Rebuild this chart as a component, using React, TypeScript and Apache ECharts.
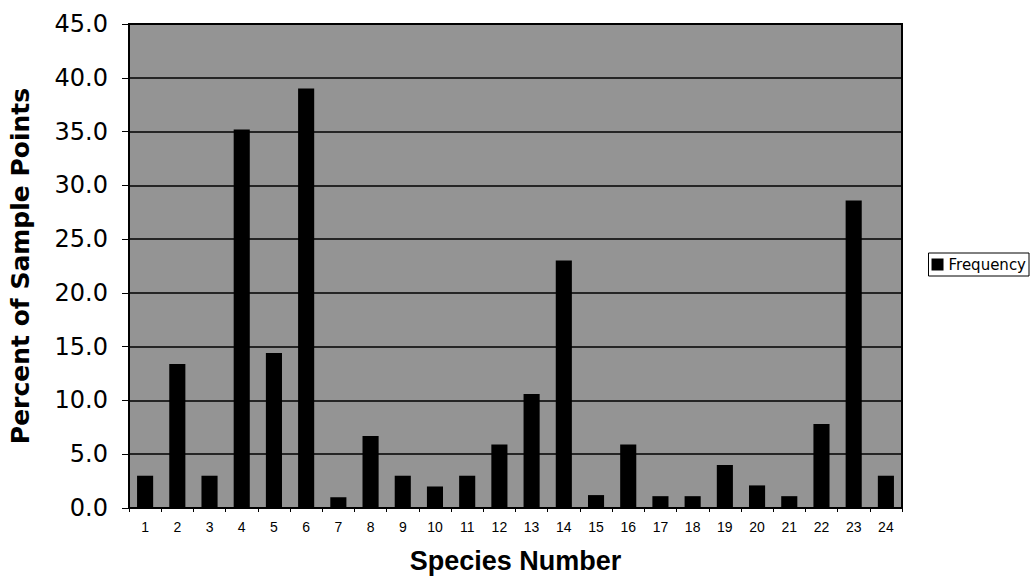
import React, { useEffect, useRef } from "react";
import * as echarts from "echarts";

const categories = ["1","2","3","4","5","6","7","8","9","10","11","12","13","14","15","16","17","18","19","20","21","22","23","24"];
const frequency = [3.0, 13.4, 3.0, 35.2, 14.4, 39.0, 1.0, 6.7, 3.0, 2.0, 3.0, 5.9, 10.6, 23.0, 1.2, 5.9, 1.1, 1.1, 4.0, 2.1, 1.1, 7.8, 28.6, 3.0];
const yMin = 0;
const yMax = 45;
const yStep = 5;

export default function App() {
  const ref = useRef<HTMLDivElement>(null);
  useEffect(() => {
    if (!ref.current) return;
    const chart = echarts.init(ref.current, null, { renderer: "svg" });
    chart.setOption({
      animation: false,
      backgroundColor: "#ffffff",
      textStyle: { fontFamily: "Liberation Sans, Arial, sans-serif", color: "#000" },
      grid: {
        left: 129,
        right: 129,
        top: 24,
        bottom: 69,
        containLabel: false,
        outerBoundsMode: "none",
        show: true,
        backgroundColor: "#949494",
        borderColor: "#000",
        borderWidth: 2,
      },
      legend: {
        right: 2,
        top: 253,
        orient: "vertical",
        data: ["Frequency"],
        itemWidth: 12,
        itemHeight: 12,
        borderColor: "#000",
        borderWidth: 1,
        padding: [4, 3, 4, 3],
        textStyle: { fontSize: 15, color: "#000", fontFamily: "DejaVu Sans, sans-serif" },
        icon: "rect",
      },
      xAxis: {
        type: "category",
        data: categories,
        name: "Species Number",
        nameLocation: "middle",
        nameGap: 39,
        nameTextStyle: { fontSize: 27, fontWeight: "bold", color: "#000", fontFamily: "Liberation Sans, Arial, sans-serif" },
        axisLine: { show: true, lineStyle: { color: "#000", width: 1.5 } },
        axisTick: { show: true, length: 4, lineStyle: { color: "#000" } },
        axisLabel: { fontSize: 14, color: "#000", margin: 12, interval: 0, fontFamily: "Liberation Sans, Arial, sans-serif" },
      },
      yAxis: {
        type: "value",
        min: yMin,
        max: yMax,
        interval: yStep,
        name: "Percent of Sample Points",
        nameLocation: "middle",
        nameGap: 96,
        nameTextStyle: { fontSize: 25, fontWeight: "bold", color: "#000", fontFamily: "DejaVu Sans, sans-serif" },
        axisLine: { show: true, lineStyle: { color: "#000", width: 1.5 } },
        axisTick: { show: true, length: 7, lineStyle: { color: "#000" } },
        axisLabel: {
          fontSize: 24,
          color: "#000",
          margin: 21,
          fontFamily: "DejaVu Sans, sans-serif",
          formatter: (v: number) => v.toFixed(1),
        },
        splitLine: { show: true, lineStyle: { color: "#000", width: 1.5 } },
      },
      series: [
        {
          name: "Frequency",
          type: "bar",
          data: frequency,
          barWidth: "50%",
          itemStyle: { color: "#000" },
        },
      ],
    });
    return () => chart.dispose();
  }, []);
  return (
    <div
      ref={ref}
      style={{ position: "absolute", left: 0, top: 0, width: 1031, height: 577 }}
    />
  );
}
